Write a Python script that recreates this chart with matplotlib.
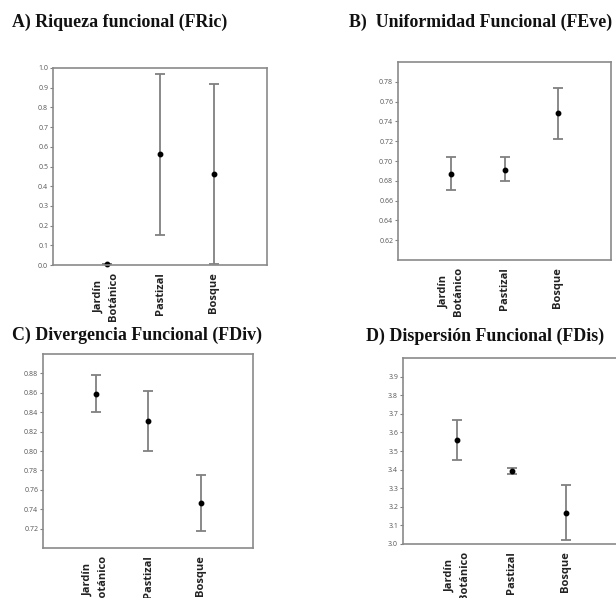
import matplotlib
matplotlib.use("Agg")
import matplotlib.pyplot as plt
import numpy as np

W, H = 616, 598
categories = ["Jardín\nBotánico", "Pastizal", "Bosque"]

# Panel A: FRic
fric_mean = [0.005, 0.563, 0.462]
fric_low = [0.003, 0.152, 0.003]
fric_high = [0.007, 0.972, 0.918]
# Panel B: FEve
feve_mean = [0.687, 0.691, 0.748]
feve_low = [0.671, 0.680, 0.722]
feve_high = [0.704, 0.704, 0.774]
# Panel C: FDiv
fdiv_mean = [0.859, 0.831, 0.746]
fdiv_low = [0.840, 0.800, 0.718]
fdiv_high = [0.878, 0.862, 0.775]
# Panel D: FDis
fdis_mean = [3.559, 3.392, 3.167]
fdis_low = [3.453, 3.378, 3.022]
fdis_high = [3.665, 3.409, 3.317]

titles = ["A) Riqueza funcional (FRic)", "B)  Uniformidad Funcional (FEve)",
          "C) Divergencia Funcional (FDiv)", "D) Dispersión Funcional (FDis)"]
yticks_list = [np.round(np.arange(0, 1.01, 0.1), 2),
               np.round(np.arange(0.62, 0.781, 0.02), 2),
               np.round(np.arange(0.72, 0.881, 0.02), 2),
               np.round(np.arange(3.0, 3.91, 0.1), 1)]
ytick_fmt = ["{:.1f}", "{:.2f}", "{:.2f}", "{:.1f}"]
ylims = [(0, 1.0), (0.60, 0.80), (0.70, 0.90), (3.0, 4.0)]

# axes boxes in pixels: left, right, top, bottom
boxes = [(53, 267, 68, 265), (398, 611, 62, 260), (43, 253, 354, 548), (403, 620, 358, 544)]
title_pos = [(12, 22), (349, 22), (12, 335), (366, 336)]

data = [(fric_mean, fric_low, fric_high), (feve_mean, feve_low, feve_high),
        (fdiv_mean, fdiv_low, fdiv_high), (fdis_mean, fdis_low, fdis_high)]

fig = plt.figure(figsize=(W / 100, H / 100), dpi=100)
fig.patch.set_facecolor("white")

gray = "#808080"
for i in range(4):
    l, r, t, b = boxes[i]
    ax = fig.add_axes([l / W, 1 - b / H, (r - l) / W, (b - t) / H])
    mean, low, high = data[i]
    x = np.arange(1, 4)
    mean = np.array(mean); low = np.array(low); high = np.array(high)
    ax.errorbar(x, mean, yerr=[mean - low, high - mean], fmt="o", color="black",
                ecolor=gray, elinewidth=1.3, capsize=3.8, capthick=1.3, markersize=3.2,
                clip_on=False)
    ax.set_xlim(0, 4)
    ax.set_ylim(*ylims[i])
    ax.set_xticks(x)
    ax.set_xticklabels(categories, rotation=90, fontfamily="Open Sans",
                       fontweight="bold", fontsize=8, color="#222222", linespacing=1.45)
    ax.set_yticks(yticks_list[i])
    ax.set_yticklabels([ytick_fmt[i].format(v) for v in yticks_list[i]],
                       fontfamily="Open Sans", fontsize=5, color="#555555")
    ax.tick_params(axis="y", length=2.5, width=0.8, color=gray, pad=1)
    ax.tick_params(axis="x", length=0, pad=5)
    for s in ax.spines.values():
        s.set_color("#8a8a8a")
        s.set_linewidth(1.2)
    tx, ty = title_pos[i]
    fig.text(tx / W, 1 - ty / H, titles[i], fontfamily="Liberation Serif",
             fontweight="bold", fontsize=12.9, color="#111111", va="center", ha="left")

fig.savefig("out.png", dpi=100)
